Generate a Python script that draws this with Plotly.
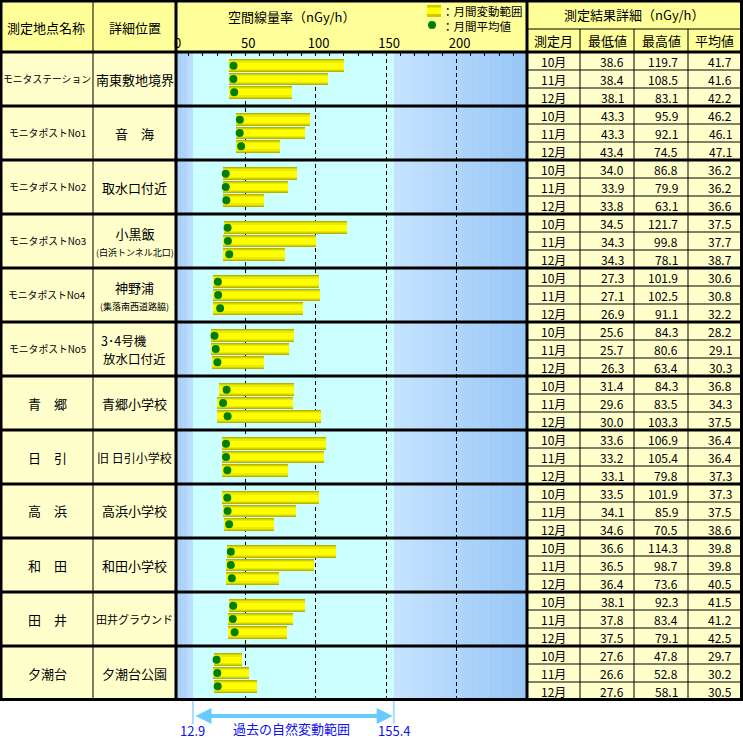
import plotly.graph_objects as go

# ---------------- data ----------------
stations = ["モニタステーション", "モニタポストNo1", "モニタポストNo2", "モニタポストNo3",
            "モニタポストNo4", "モニタポストNo5", "青　郷", "日　引", "高　浜",
            "和　田", "田　井", "夕潮台"]
details = [["南東敷地境界"], ["音　海"], ["取水口付近"], ["小黒飯", "(白浜トンネル北口)"],
           ["神野浦", "(集落南西道路脇)"], ["3･4号機", "放水口付近"], ["青郷小学校"],
           ["旧 日引小学校"], ["高浜小学校"], ["和田小学校"], ["田井グラウンド"], ["夕潮台公園"]]
months = ["10月", "11月", "12月"]
min_vals = [[38.6, 38.4, 38.1], [43.3, 43.3, 43.4], [34.0, 33.9, 33.8], [34.5, 34.3, 34.3],
            [27.3, 27.1, 26.9], [25.6, 25.7, 26.3], [31.4, 29.6, 30.0], [33.6, 33.2, 33.1],
            [33.5, 34.1, 34.6], [36.6, 36.5, 36.4], [38.1, 37.8, 37.5], [27.6, 26.6, 27.6]]
max_vals = [[119.7, 108.5, 83.1], [95.9, 92.1, 74.5], [86.8, 79.9, 63.1], [121.7, 99.8, 78.1],
            [101.9, 102.5, 91.1], [84.3, 80.6, 63.4], [84.3, 83.5, 103.3], [106.9, 105.4, 79.8],
            [101.9, 85.9, 70.5], [114.3, 98.7, 73.6], [92.3, 83.4, 79.1], [47.8, 52.8, 58.1]]
avg_vals = [[41.7, 41.6, 42.2], [46.2, 46.1, 47.1], [36.2, 36.2, 36.6], [37.5, 37.7, 38.7],
            [30.6, 30.8, 32.2], [28.2, 29.1, 30.3], [36.8, 34.3, 37.5], [36.4, 36.4, 37.3],
            [37.3, 37.5, 38.6], [39.8, 39.8, 40.5], [41.5, 41.2, 42.5], [29.7, 30.2, 30.5]]
axis_ticks = [0, 50, 100, 150, 200]
natural_range = [12.9, 155.4]
axis_max = 250

# ---------------- layout helpers ----------------
W, H = 743, 741
FONT = "Noto Sans CJK JP"
TOP, ROW, STN = 52, 18, 54


def X(px):
    return px / W


def Y(py):
    return 1 - py / H


def mix(c1, c2, t):
    a = [int(c1[i:i + 2], 16) for i in (1, 3, 5)]
    b = [int(c2[i:i + 2], 16) for i in (1, 3, 5)]
    return "#" + "".join("%02x" % round(a[i] + (b[i] - a[i]) * t) for i in range(3))


n_st = len(stations)
offsets = [-0.246, 0.0, 0.246]
ys, mins, spans, avgs = [], [], [], []
for j in range(n_st):
    for k in range(3):
        ys.append(j + 0.5 + offsets[k])
        mins.append(min_vals[j][k])
        spans.append(round(max_vals[j][k] - min_vals[j][k], 1))
        avgs.append(avg_vals[j][k])

fig = go.Figure()
layers = [(0.237, "#b8b200"), (0.20, "#d6d200"), (0.16, "#ecea00"), (0.11, "#ffff00")]
for w, c in layers:
    fig.add_trace(go.Bar(orientation="h", y=ys, x=spans, base=mins, width=w,
                         marker=dict(color=c, line=dict(width=0)),
                         showlegend=False, hoverinfo="skip"))
fig.add_trace(go.Scatter(x=avgs, y=ys, mode="markers",
                         marker=dict(color="#008000", size=8, line=dict(width=0)),
                         showlegend=False, hoverinfo="skip"))

shapes = []
ann = []

# cell backgrounds
shapes.append(dict(type="rect", xref="paper", yref="paper", x0=0, x1=X(742), y0=Y(0), y1=Y(TOP),
                   fillcolor="#ffff99", line=dict(width=0), layer="below"))
shapes.append(dict(type="rect", xref="paper", yref="paper", x0=0, x1=X(176), y0=Y(TOP), y1=Y(700),
                   fillcolor="#ffffcc", line=dict(width=0), layer="below"))
shapes.append(dict(type="rect", xref="paper", yref="paper", x0=X(527), x1=X(742), y0=Y(TOP), y1=Y(700),
                   fillcolor="#ffffcc", line=dict(width=0), layer="below"))

# blue gradient bands outside natural range
nL = 8
for i in range(nL):
    a = natural_range[0] * i / nL
    b = natural_range[0] * (i + 1) / nL
    shapes.append(dict(type="rect", xref="x", yref="y", x0=a, x1=b, y0=0, y1=n_st,
                       fillcolor=mix("#9ec6f4", "#bcdcff", i / (nL - 1)),
                       line=dict(width=0), layer="below"))
nR = 24
span_r = axis_max - natural_range[1]
for i in range(nR):
    a = natural_range[1] + span_r * i / nR
    b = natural_range[1] + span_r * (i + 1) / nR + 0.2
    shapes.append(dict(type="rect", xref="x", yref="y", x0=a, x1=min(b, axis_max), y0=0, y1=n_st,
                       fillcolor=mix("#c4e2ff", "#98c6f6", i / (nR - 1)),
                       line=dict(width=0), layer="below"))


def hline(py, x0, x1, w):
    shapes.append(dict(type="line", xref="paper", yref="paper", x0=X(x0), x1=X(x1), y0=Y(py), y1=Y(py),
                       line=dict(color="black", width=w), layer="above"))


def vline(px, y0, y1, w):
    shapes.append(dict(type="line", xref="paper", yref="paper", x0=X(px), x1=X(px), y0=Y(y0), y1=Y(y1),
                       line=dict(color="black", width=w), layer="above"))


# thin lines
vline(93, 0, 700, 1)
for px in (580, 634, 688):
    vline(px, 29, 700, 1)
hline(29, 527, 743, 1)
for j in range(n_st):
    for k in (1, 2):
        hline(TOP + STN * j + ROW * k, 527, 743, 1)
# thick lines
hline(1, 0, 743, 3)
hline(TOP, 0, 743, 3)
for j in range(1, n_st):
    hline(TOP + STN * j, 0, 743, 3)
hline(699.5, 0, 743, 3)
vline(1, 0, 701, 3)
vline(176, 0, 701, 3)
vline(527, 0, 701, 3)
vline(741.5, 0, 701, 3)


def text(px, py, s, size=13, anchor="center", color="black", align="center", yanchor="middle"):
    ann.append(dict(xref="paper", yref="paper", x=X(px), y=Y(py), text=s, showarrow=False,
                    xanchor=anchor, yanchor=yanchor, align=align, borderpad=0,
                    font=dict(family=FONT, size=size, color=color)))


# headers
text(46.5, 27, "測定地点名称")
text(134.5, 27, "詳細位置")
text(291, 17, "空間線量率（nGy/h）")
text(634, 15, "測定結果詳細（nGy/h）")
for cx, s in zip((553.5, 607, 661, 714.5), ("測定月", "最低値", "最高値", "平均値")):
    text(cx, 41, s)

# legend in header
shapes.append(dict(type="rect", xref="paper", yref="paper", x0=X(427), x1=X(441), y0=Y(5), y1=Y(17),
                   fillcolor="#cfcb00", line=dict(width=0), layer="above"))
shapes.append(dict(type="rect", xref="paper", yref="paper", x0=X(427), x1=X(441), y0=Y(7.5), y1=Y(14),
                   fillcolor="#ffff00", line=dict(width=0), layer="above"))
shapes.append(dict(type="circle", xref="paper", yref="paper", x0=X(428), x1=X(436), y0=Y(21), y1=Y(29),
                   fillcolor="#008000", line=dict(width=0), layer="above"))
text(441, 18, "：月間変動範囲<br>：月間平均値", size=11.5, anchor="left", align="left")

# station rows
for j in range(n_st):
    cy = TOP + STN * j + STN / 2
    nm = stations[j]
    text(47, cy, nm, size=(9.8 if len(nm) > 8 else (10 if "No" in nm else 13)))
    d = details[j]
    if len(d) == 1:
        s = d[0]
        size = 11 if "グラウンド" in s else (12 if " " in s else 13)
        text(134.5, cy, s, size=size)
    elif d[1].startswith("("):
        text(134.5, cy, d[0] + "<br><span style='font-size:9px'>" + d[1] + "</span>", size=13)
    else:
        text(124, cy - 8.5, d[0], size=12.5)
        text(134.5, cy + 9.5, d[1], size=12.5)
    for k in range(3):
        ry = TOP + STN * j + ROW * k + ROW / 2 + 0.3
        text(553.5, ry, months[k], size=12)
        text(625, ry, "%.1f" % min_vals[j][k], anchor="right", size=12)
        text(679, ry, "%.1f" % max_vals[j][k], anchor="right", size=12)
        text(733, ry, "%.1f" % avg_vals[j][k], anchor="right", size=12)

# natural variation range marker below chart
for v in natural_range:
    shapes.append(dict(type="line", xref="x", yref="paper", x0=v, x1=v, y0=Y(701), y1=Y(724),
                       line=dict(color="#a8dcff", width=2), layer="above"))
    ann.append(dict(xref="x", yref="paper", x=v, y=Y(740.5), text=str(v), showarrow=False,
                    xanchor="center", yanchor="bottom", borderpad=0,
                    font=dict(family=FONT, size=13, color="#1010f0")))
ann.append(dict(xref="x", yref="paper", x=natural_range[1] - 0.8, y=Y(716), text="",
                axref="x", ayref="pixel", ax=natural_range[0] + 0.8, ay=0,
                showarrow=True, arrowhead=2, startarrowhead=2, arrowside="end+start",
                arrowwidth=4, arrowsize=0.8, startarrowsize=0.8, arrowcolor="#66ccff",
                standoff=0, startstandoff=0))
text(291, 728, "過去の自然変動範囲", size=13, color="#1010f0")

fig.update_layout(
    width=W, height=H, margin=dict(l=0, r=0, t=0, b=0, pad=0),
    paper_bgcolor="white", plot_bgcolor="#ccffff",
    barmode="overlay", bargap=0, showlegend=False, hovermode=False,
    shapes=shapes, annotations=ann,
    font=dict(family=FONT, size=13, color="black"),
    xaxis=dict(domain=[X(174.7), X(527.2)], range=[0, axis_max], side="top",
               tickmode="array", tickvals=axis_ticks, ticktext=[str(t) for t in axis_ticks],
               ticks="inside", ticklen=4, tickwidth=1, tickcolor="black",
               tickfont=dict(family=FONT, size=13, color="black"), ticklabelshift=3,
               minor=dict(tickmode="linear", tick0=0, dtick=10, ticks="inside", ticklen=4,
                          tickwidth=1, tickcolor="black", showgrid=False),
               showgrid=True, gridcolor="black", gridwidth=1, griddash="4px,3px",
               zeroline=False, showline=False, fixedrange=True),
    yaxis=dict(domain=[Y(700), Y(TOP)], range=[n_st, 0], visible=False,
               showgrid=False, zeroline=False, fixedrange=True),
)

fig.write_html("out.html", config={"displayModeBar": False},
               post_script="document.body.style.margin='0';document.body.style.padding='0';")
